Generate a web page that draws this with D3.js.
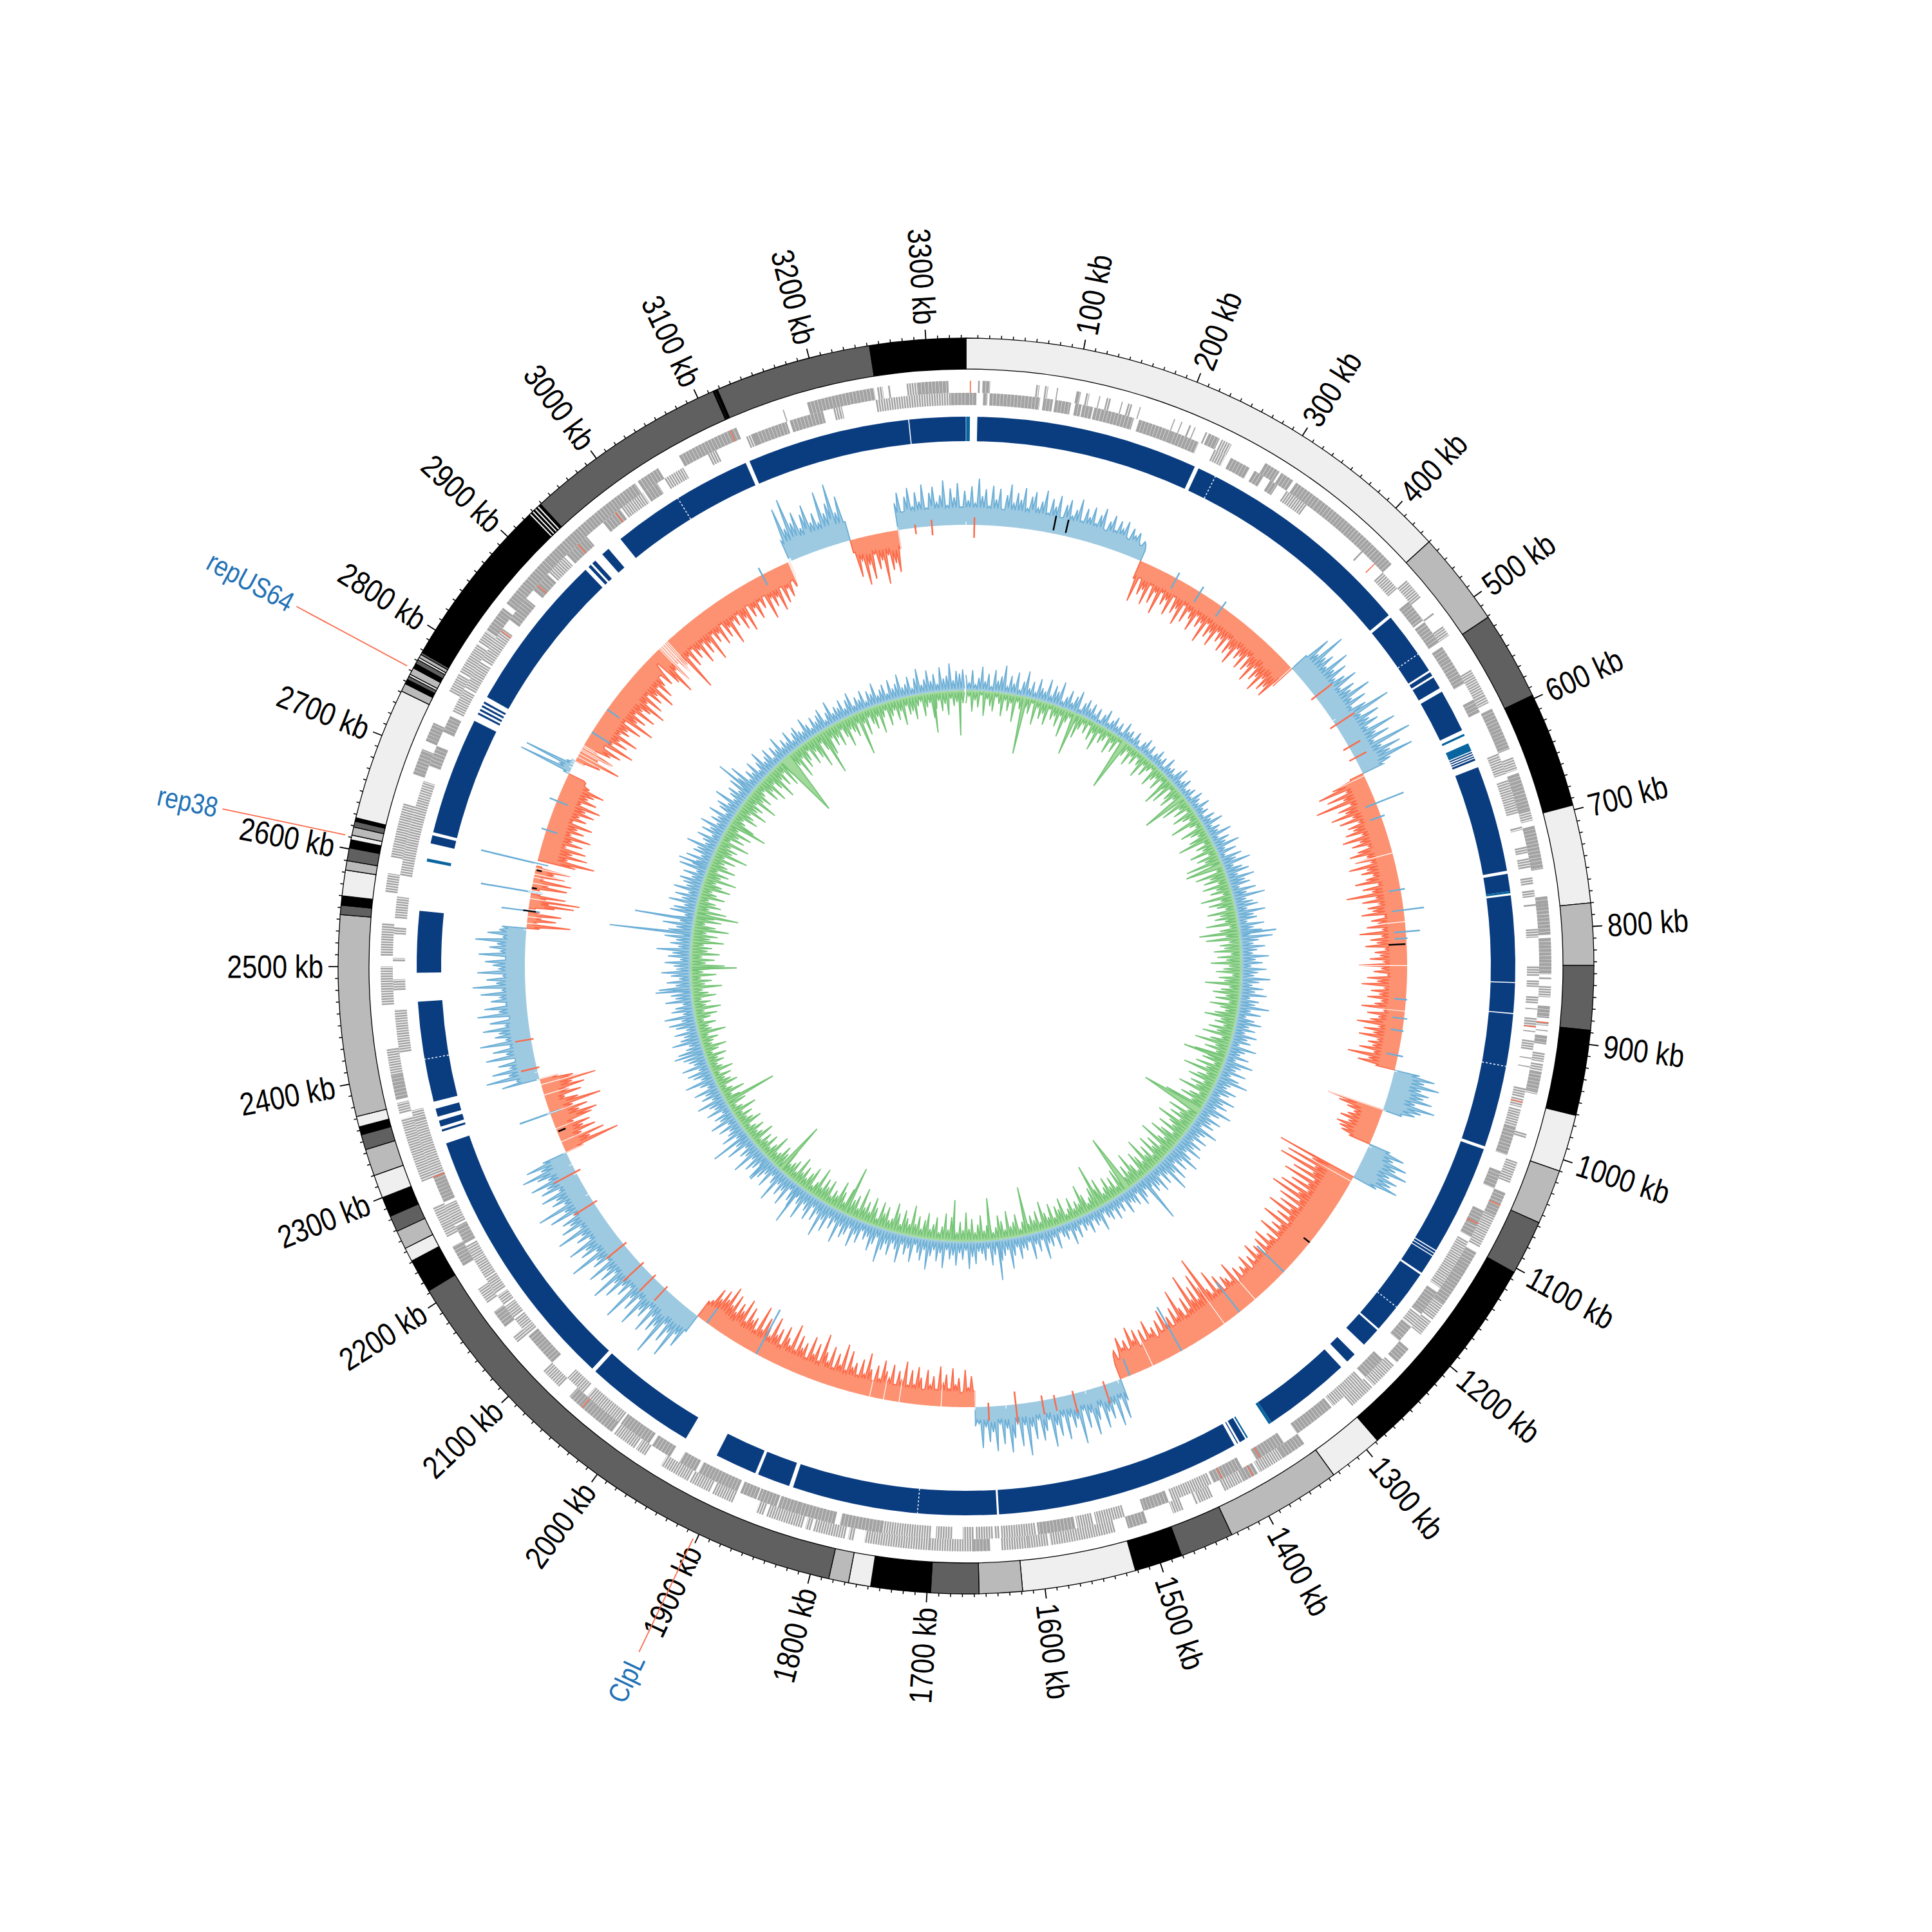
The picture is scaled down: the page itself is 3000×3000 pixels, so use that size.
<!DOCTYPE html>
<html><head><meta charset="utf-8">
<script src="https://cdn.jsdelivr.net/npm/d3@7"></script>
<style>html,body{margin:0;background:#fff}svg{display:block}text{font-family:"Liberation Sans",sans-serif}</style>
</head><body><div id="c"></div>
<script>
const genomeKb=3334;
const tickLabels=d3.range(100,3301,100);
const bandEnds=[440,521,597,696,780,833,888,961,1010,1057,1104,1288,1335,1435,1481,1522,1619,1656,1697,1748,1767,1784,2212,2241,2253,2269,2283,2300,2320,2343,2356,2363,2372,2544,2552,2560,2582,2590,2601,2608,2612,2619,2624,2627,2741,2748,2752,2755,2757,2763,2767,2771,2773,2776,2778,2926,2928,2929,2931,2932,2934,2935,2937,2939,3114,3115,3116,3117,3118,3252,3334];
const bandShades=["#efefef","#bababa","#606060","#000000"];
const bandColorIdx=[0,1,2,3,0,1,2,3,0,1,2,3,0,1,2,3,0,1,2,3,0,1,2,3,0,1,2,3,0,1,2,3,0,1,2,3,0,1,2,3,0,1,2,3,0,1,3,2,0,1,3,2,0,1,2,3,0,3,0,3,0,3,0,3,2,3,2,3,3,2,3];
const outerDense=[[15,22],[101,105],[227,238],[285,300],[302,315],[318,345],[345,432],[592,632],[655,690],[705,745],[770,805],[808,841],[870,881],[897,905],[930,948],[1045,1068],[1105,1160],[1212,1228],[1340,1362],[1390,1405],[1500,1518],[1645,1660],[2012,2062],[2148,2165],[2215,2235],[2378,2400],[2678,2702],[2710,2728],[2825,2850],[2855,2910],[2910,3015],[3018,3040],[3062,3120],[3188,3250],[3290,3318]];
const outerSparse=[[11,13],[64,67],[72,75],[83,84],[110,113],[122,123],[129,133],[143,144],[149,153],[160,161],[193,194],[200,201],[208,210],[213,214],[224,226],[240,250],[452,472],[490,492],[505,515],[552,578],[578,586],[640,652],[690,700],[775,782],[844,846],[852,862],[885,888],[892,893],[913,921],[923,929],[948,951],[988,992],[1015,1035],[1068,1100],[1160,1178],[1180,1195],[1232,1258],[1260,1285],[1362,1388],[1406,1420],[1420,1424],[1436,1450],[1451,1453],[1465,1475],[1530,1590],[1592,1610],[1610,1635],[1660,1700],[1700,1760],[1770,1775],[1778,1808],[1810,1815],[1818,1852],[1855,1862],[1885,1905],[1908,1928],[1930,1958],[1975,1985],[1987,2010],[2075,2095],[2130,2137],[2175,2190],[2245,2275],[2300,2360],[2365,2375],[2400,2425],[2465,2500],[2510,2540],[2568,2585],[2600,2650],[2760,2778],[2780,2810],[2812,2824],[3165,3166],[3253,3258],[3263,3265],[3280,3290]];
const innerDense=[[0,10],[16,20],[22,69],[72,81],[83,98],[102,108],[109,119],[120,127],[127,158],[163,195],[195,222],[255,275],[280,290],[297,305],[468,490],[492,515],[520,560],[577,590],[985,1012],[1028,1045],[1068,1095],[1155,1180],[1195,1212],[1235,1258],[1300,1340],[1355,1385],[1400,1430],[1475,1500],[1565,1600],[1745,1785],[1790,1825],[1825,1845],[1846,1865],[1866,1882],[1885,1925],[1928,1945],[1955,1975],[1978,2010],[2095,2128],[2232,2250],[2275,2300],[2690,2710],[2724,2740],[2845,2870],[2880,2900],[2925,2950],[2970,2990],[3018,3032],[3130,3165],[3168,3200],[3320,3334]];
const innerSparse=[[238,250],[315,338],[404,406],[432,452],[632,652],[658,690],[703,706],[722,728],[733,742],[751,758],[763,769],[776,778],[799,807],[834,843],[847,853],[862,869],[873,874],[882,891],[894,895],[903,912],[919,920],[927,928],[948,957],[958,966],[968,985],[1100,1150],[1182,1194],[1262,1298],[1432,1472],[1518,1545],[1548,1563],[1602,1634],[1636,1640],[1642,1658],[1660,1670],[1680,1695],[1700,1745],[2012,2050],[2055,2075],[2130,2136],[2137,2148],[2150,2163],[2165,2175],[2178,2194],[2195,2215],[2216,2230],[2252,2272],[2300,2355],[2355,2365],[2420,2460],[2478,2488],[2505,2508],[2530,2537],[2545,2565],[2585,2675],[2745,2768],[2770,2798],[2800,2835],[2902,2922],[2992,3016],[3040,3060],[3086,3095],[3125,3135],[3210,3218],[3250,3320]];
const redGenes=[[4,1],[421,0],[885,1],[890,0],[961,0],[1057,1],[1081,0],[1381,0],[1395,1],[1421,0],[2047,1],[2300,0],[2832,0],[2886,0],[2939,0],[2985,0],[3114,1]];
const contigs=[[11,228],[232,466],[469,532],[534,538],[540,552],[556,598],[621,622.2],[623.4,624.6],[625.8,627],[628,630],[637,741],[744,761],[765,849],[850,879],[880,1011],[1014,1122],[1123,1125],[1126,1128],[1129,1148],[1150,1216],[1218,1237],[1250,1260],[1268,1354],[1384,1390],[1392,1393],[1396,1635],[1637,1837],[1841,1873],[1876,1917],[1951,2060],[2064,2326],[2338,2340],[2343,2349],[2353,2361],[2368,2466],[2494,2554],[2620,2628],[2631,2746],[2753,2755],[2757,2759],[2761,2763],[2765,2767],[2772,2928],[2932,2935],[2937,2941],[2950,2958],[2973,3115],[3119,3278],[3279,3333.8]];
const plasmidContigs=[[0.2,3.8],[602,604],[612,620],[761,763],[1354,1357],[1381,1382.5],[2602,2605]];
const dottedBreaks=[250,513,931,1189,1714,2410,3041];
const blueA=[42,58,27,50,63,33,55,40,66,29,52,61,36,47,70,31,57,43,65,28,53,38,60,34,72,45,56,30,62,41,58,26,49,66,37,54,44,63,32,51,59,35,46,64,30,53,42,60,27,48,57,33,44,62,29,50,38,55,31,46,58,25,41,52,30,47,36,50,24,43,33,40,22,30,18];
const redB=[30,65,25,50,40,62,28,55,35,68,30,48,38,60,27,52,42,66,30,56,36,45,62,33,50,40,70,35,55,44,64,36,50,42,60,34,57,46,68,38,52,44,62,36,58,48,70,42,60,50,72,45,62,52,66,40];
const blueC=[30,70,45,88,50,60,42,78,48,66,40,55,72,38,60,50,80,44,65,36,58,95,42,70,50,62,40,85,48,68,38,98,46,75,55,90,50,35];
const redD=[22,55,80,35,70,45,92,38,60,50,75,42,65,35,55,48,62,36,70,44,58,33,52,66,40,60,35,72,45,55,38,50,68,32,58,44,85,40,62,36,55,48,66,30,52,42,60,35,72,38,56,46,64,33,50,42,58,36,75,40,52,30,62,46,70,34,55,42,60,38,48,68,32,58,40,52,72,36,60,44,66,35,50,42,62,38,78,44,60,30];
const blueE=[40,65,50,75,48,62,55,70,45,78,58,50,30];
const redF=[90,70,55,42,50,60,45,62,55,50,35];
const blueG=[35,60,45,70,55,76,50,66,58,72,40];
const redH=[128,70,110,60,118,58,90,50,100,55,82,48,95,60,105,52,85,46,78,55,92,50,70,44,88,52,66,48,80,42,60,50,75,46,68,40,62,48,72,44,58,38,66,46,54,40,60,36,75,45,55,62,42,70,50,85,48,60,118,70,95,55,80,60,105,50,72,44,60,92,48,68,40,58,50,74,42,62,36,55,46,70,40,60,35,64,48,72,38,55,44,63,30,45,25];
const blueI=[35,62,28,70,34,55,42,66,30,50,72,36,58,28,80,40,52,34,68,30,60,42,75,32,48,62,28,58,38,82,34,66,30,52,74,36,60,28,70,40,55,32,64,26,30];
const redJ=[25,48,30,58,22,45,35,60,28,50,38,62,26,46,32,55,24,42,58,30,52,28,64,36,48,26,56,34,44,60,30,50,25,42,66,32,54,28,46,38,62,30,70,36,52,28,60,34,48,75,30,56,38,64,28,50,40,58,32,72,36,46,62,30,54,42,68,34,48,60,38,74,32,50,44,62,36,70,48,58,40,66,46,74,50,62,44,58,35,30];
const blueK=[30,62,44,88,50,70,42,100,55,68,46,78,38,60,52,84,40,66,48,92,36,58,44,72,50,86,38,62,46,75,34,58,48,90,40,64,52,78,36,56,44,82,38,68,50,60,36,74,46,88,40,58,48,70,36,64,52,76,44,60,82,48,70,40];
const redL=[30,90,45,70,35,60,42,55,30,62,72,45,60,38,85,50,30,58,40,66,48,87,52,30];
const blueM=[60,35,82,45,70,40,58,30,75,42,62,34,80,38,55,48,72,36,60,28,78,44,66,32,55,40,70,36,82,45,60,34,74,40,50,62,30,72,38,56,44,78,35,60,42,38];
const redN1=[20,68,15,45,22,52,18];
const redN2=[10,40,70,30,78,25,55,15];
const redN3=[12,55,25,60,15,48,30,55,8];
const redN4=[60,89,45,75,50,70,36,62,44,72,38,58,46,68,34,55,42,64,48,70,36,60,44,52,66,40,30,25];
const blueO=[10,85,20,80,12,5];
const redP=[15,40,70,30,55,20,45,60,28,76,36,60,44,72,38,52,46,66,34,82,50,62,40,72,46,58,80,44,68,36,60,48,75,40,64,46,30,52,15,58,80,42,66,36,60,48,96,40,62,34,55,44,70,38,60,46,78,36,54,42,64,32,58,44,75,38,50,34,62,46,70,30,52,40,60,34,48,30,70,38,55,42,66,30,58,36,52,28,40,20];
const blueQ=[35,85,50,96,55,70,42,62,75,45,58,40,88,52,66,95,48,72,30];
const redR=[20,60,35,75,45,68,30,55,42,80,36,60,50,65,30];
const ringRuns=[[3252,3550,1,blueA,27],[216,441,-1,redB,25],[441,594,1,blueC,30],[594,960,-1,redD,27],[960,1010,1,blueE,28],[1010,1054,-1,redF,30],[1054,1098,1,blueG,28],[1098,1477,-1,redH,40],[1477,1656,1,blueI,20],[1656,2014,-1,redJ,25],[2014,2269,1,blueK,28],[2269,2363,-1,redL,20],[2363,2546,1,blueM,30],[2546,2566,-1,redN1,8],[2570,2588,-1,redN2,10],[2593,2622,-1,redN3,10],[2629,2740,-1,redN4,30],[2740,2757,1,blueO,3],[2757,3116,-1,redP,30],[3116,3193,1,blueQ,30],[3193,3252,-1,redR,25]];
const blueCross=[[264,10],[297,10],[329,10],[633,46],[650,6],[741,7],[766,32],[792,22],[800,2],[874,2],[897,5],[912,2],[942,8],[1240,-40],[1312,-40],[1396,-60],[1465,-10],[1930,-60],[2000,-10],[2320,50],[2667,8],[2704,12],[2797,-15],[2830,-5],[3079,12],[2625,89],[2590,79],[2567,42]];
const redCross=[[10,-20,12],[3293,-14,10],[3273,-10,5],[485,-8,32],[527,-10,35],[558,-10,20],[573,-10,20],[1640,-6,22],[1607,-20,30],[1575,-8,22],[1560,-5,20],[1537,-5,30],[1498,-6,30],[2412,-4,25],[2377,-4,25],[2243,-8,38],[2200,-6,36],[2138,-5,35],[2106,-5,38],[2085,-5,30],[2065,-5,25]];
const blackMarks=[[105,5,28],[120,5,26],[807,-28,-2],[1193,-12,0],[2296,-14,-2],[2617,-10,-2],[2595,-8,0],[2567,-12,8]];
const innerBlue=[34,22,41,18,30,46,25,37,16,43,28,35,50,20,38,27,44,17,33,48,24,36,19,42,30,26,45,21,39,32,47,18,29,40,23,35,44,16,31,38,
26,36,20,33,14,29,38,18,27,35,22,31,16,37,25,30,19,34,24,13,28,36,21,32,17,26,35,23,30,15,37,24,28,19,33,40,22,27,34,18,
25,31,17,36,28,21,38,24,30,16,35,26,42,20,33,27,45,22,38,30,48,24,40,18,44,34,52,26,38,46,28,50,36,42,24,47,33,56,30,39,
45,28,52,36,40,24,48,33,44,26,56,38,30,46,35,28,50,32,42,25,47,36,30,52,38,28,44,33,49,26,40,35,54,30,45,24,38,48,32,42,
28,46,34,40,24,50,36,30,44,26,52,38,32,48,28,42,55,34,30,46,38,26,50,36,44,30,54,40,28,47,35,42,25,52,38,32,46,28,44,36,
50,30,42,55,34,46,28,52,38,60,32,44,26,48,36,42,30,50,28,38,46,24,40,34,30,44,22,36,28,42,26,38,32,20,46,30,35,24,41,28,
34,22,40,28,46,24,36,30,20,44,26,38,32,52,24,40,28,48,22,34,30,44,26,38,54,28,36,42,24,33,47,22,40,30,26,44,34,50,24,38,
28,46,32,38,24,50,30,42,26,36,54,28,44,34,22,48,30,40,26,52,36,28,46,32,42,58,26,38,48,30,36,24,44,34,52,28,40,46,32,56,
30,42,28,50,36,60,32,44,26,48,38,30,54,36,28,46,40,24,52,34,44,30,58,36,26,48,32,42,50,28,38,46,30,56,34,40,26,52,36,44,
28,48,36,30,44,26,50,34,40,24,46,32,38,52,28,42,34,48,26,36,54,30,40,46,28,50,32,38,44,26,48,36,30,52,40,34,46,28,42,50,
32,54,28,44,38,26,50,36,42,30,56,34,46,28,40,52,32,36,48,26,44,38,58,30,42,34,50,28,46,36,54,32,40,26,48,44,30,52,36,46,
28,50,34,40,46,30,44,26,52,36,32,48,28,42,38,54,30,36,46,26,44,34,50,28,40,32,48,24,38,44,30,52,26,36,42,28,46,32,40,54,
26,38,30,44,24,36,48,28,34,42,22,38,30,46,26,36,28,42,24,34,40,30,26,44,32,22,38,28,36,42,20,32,46,26,34,30,40,24,36,44,
22,34,28,40,20,36,30,44,24,32,38,22,42,28,34,46,26,30,40,20,36,48,24,32,44,28,38,22,46,30,34,50,26,40,36,42];
const innerGreen=[30,18,42,25,36,14,47,22,33,40,16,28,45,20,37,24,50,19,31,43,26,35,15,48,21,38,29,44,17,34,27,41,23,52,30,19,39,26,46,32,
20,34,16,40,27,50,22,36,30,18,44,25,38,15,47,28,33,20,42,24,35,18,30,46,22,38,26,16,44,32,24,40,20,34,28,48,18,36,45,26,
30,22,52,28,40,18,46,34,24,55,30,20,48,36,26,42,58,22,38,30,50,24,44,34,60,28,40,20,54,36,46,26,50,32,42,24,56,30,48,38,
26,52,36,44,30,56,24,40,48,32,58,28,42,36,50,26,46,34,54,30,38,48,24,44,36,60,28,40,50,32,46,26,52,38,30,44,56,34,42,28,
48,36,54,26,42,60,32,46,28,56,38,44,24,50,34,62,30,42,52,28,46,36,58,26,40,50,32,66,38,44,28,54,36,48,30,60,42,34,52,26,
44,56,32,40,62,28,48,36,54,26,46,34,60,30,42,50,24,38,56,32,44,28,52,36,48,24,42,30,46,34,26,50,38,28,44,32,24,40,54,30,
36,26,44,30,22,48,34,40,24,46,28,36,52,24,42,30,38,26,56,32,20,44,34,28,50,24,38,46,30,22,42,34,26,48,36,24,44,30,52,28,
40,24,36,46,28,50,32,22,44,34,26,48,38,24,42,30,54,28,36,46,24,40,52,30,26,44,34,48,22,38,50,28,42,32,56,26,44,36,30,48,
26,40,52,30,36,24,46,34,44,28,54,32,22,48,38,26,42,30,50,24,40,34,28,46,22,36,44,30,26,50,34,24,42,28,38,20,46,32,26,40,
30,22,44,34,26,38,24,48,30,20,40,28,36,24,46,30,22,42,34,26,38,20,44,30,24,36,28,42,22,34,46,26,30,38,24,50,32,28,40,22,
34,44,26,50,30,38,24,46,36,28,54,32,42,26,48,30,40,58,34,46,28,52,36,42,30,56,38,48,32,60,44,28,50,40,34,54,30,46,38,26,
48,36,28,52,40,30,56,34,44,26,50,38,32,46,28,58,36,42,30,54,24,44,34,50,28,40,48,32,26,46,38,30,52,36,42,28,56,34,44,30,
24,46,34,52,28,40,56,32,44,26,50,36,60,30,42,34,54,28,46,38,24,48,32,44,58,26,40,36,50,28,42,32,46,24,38,52,30,36,44,26,
40,30,48,24,36,44,28,52,32,22,46,34,26,42,30,50,24,38,34,46,28,20,44,32,26,48,36,24,40,30,46,22,34,28,42,30];
const greenBig=[[115,90,4],[218,68,4],[327,85,6],[440,50,3],[482,73,5],[634,60,5],[768,63,3],[1016,68,3],[1128,100,7],[1333,93,6],[1396,70,3],[1546,75,3],[1620,66,3],[1692,64,2],[1909,77,3],[2060,85,4],[2226,83,3],[2496,72,2],[2600,68,3],[2790,62,3],[2954,104,11],[3040,72,3],[3118,68,3],[3271,63,2],[3322,70,2]];
const blueBig=[[771,57,2],[1300,77,3],[1605,63,2],[2007,65,2],[2090,42,2],[2153,64,2],[2333,48,2],[2454,56,2],[2562,129,2],[2589,93,2],[2695,49,2],[2862,64,2]];
const geneLinks=[["repUS64",2762],["rep38",2611],["ClpL",1903]];

const W=3000,C=1500,R={bandOut:975,bandIn:927,gO:899.5,gI:880.5,gW:19,ctgOut:853,ctgIn:815,ring:685,inner:428,tickMin:980,tickMaj:990,label:998,linkIn:985,linkOut:1180,linkLabel:1188};
const theta=d3.scaleLinear().domain([0,genomeKb]).range([0,2*Math.PI]);
const svg=d3.select("#c").append("svg").attr("width",W).attr("height",W).attr("viewBox",`0 0 ${W} ${W}`).style("background","#fff");
const g=svg.append("g").attr("transform",`translate(${C},${C})`);
const pt=(kb,r)=>{const a=theta(kb)-Math.PI/2;return [r*Math.cos(a),r*Math.sin(a)]};

const rI=d3.scaleLinear().domain([-100,100]).range([R.inner-100,R.inner+100]);
const peakScale=d3.scalePow().exponent(1.5).domain([0,60]).range([0,56]);
const aR=d3.areaRadial().angle(d=>theta(d[0])).innerRadius(d=>d[2]).outerRadius(d=>d[1]);
const lR=d3.lineRadial().angle(d=>theta(d[0])).radius(d=>d[1]);
function drawSpikes(pts,fill,stroke,sw){
  g.append("path").attr("d",aR(pts)).attr("fill",fill);
  g.append("path").attr("d",lR(pts)).attr("fill","none").attr("stroke",stroke).attr("stroke-width",sw).attr("stroke-linejoin","miter").attr("stroke-miterlimit",4);
}
function peaks(vals,sign){
  const step=genomeKb/vals.length,pts=[];
  vals.forEach((v,i)=>{
    const kb=i*step;
    pts.push([kb,rI(sign*peakScale(v)),R.inner]);
    pts.push([kb+step/2,R.inner+sign*3,R.inner]);
  });
  return pts;
}
function bigs(list,sign,fill,stroke){
  list.forEach(([kb,v,w])=>{
    drawSpikes([[kb-w,rI(sign*3),R.inner],[kb,rI(sign*v),R.inner],[kb+w,rI(sign*3),R.inner]],fill,stroke,1.8);
  });
}
drawSpikes(peaks(innerBlue,1),"#9ecae1","#6baed6",1.7);
bigs(blueBig,1,"#9ecae1","#6baed6");
drawSpikes(peaks(innerGreen,-1),"#a1d99b","#74c476",1.7);
bigs(greenBig,-1,"#a1d99b","#74c476");

const rR=d3.scaleLinear().domain([-100,100]).range([R.ring-100,R.ring+100]);
ringRuns.forEach(([s,e,sign,vals,body])=>{
  const kbOf=d3.scaleLinear().domain([0,vals.length-1]).range([s,e]);
  const half=(e-s)/(vals.length-1)/2;
  const pts=[[s,R.ring,R.ring]];
  vals.forEach((v,i)=>{
    pts.push([kbOf(i),rR(sign*v),R.ring]);
    if(i<vals.length-1){
      const trough=Math.max(Math.min(body,v),Math.min(v,vals[i+1])*0.6);
      pts.push([kbOf(i)+half,rR(sign*trough),R.ring]);
    }
  });
  pts.push([e,R.ring,R.ring]);
  if(sign>0) drawSpikes(pts,"#9ecae1","#6baed6",1.8);
  else drawSpikes(pts,"#fc9272","#fb6a4a",1.8);
});
blueCross.forEach(([kb,v])=>{
  const a=pt(kb,rR(Math.min(v,0)-18)),b=pt(kb,rR(Math.max(v,0)));
  g.append("line").attr("x1",a[0]).attr("y1",a[1]).attr("x2",b[0]).attr("y2",b[1]).attr("stroke","#6baed6").attr("stroke-width",2.5);
});
redCross.forEach(([kb,lo,hi])=>{
  const a=pt(kb,rR(lo)),b=pt(kb,rR(hi));
  g.append("line").attr("x1",a[0]).attr("y1",a[1]).attr("x2",b[0]).attr("y2",b[1]).attr("stroke","#fb6a4a").attr("stroke-width",2.5);
});
bandEnds.forEach(kb=>{
  const a=pt(kb,rR(-95)),b=pt(kb,rR(5));
  g.append("line").attr("x1",a[0]).attr("y1",a[1]).attr("x2",b[0]).attr("y2",b[1]).attr("stroke","#fff").attr("stroke-width",1.2);
});
blackMarks.forEach(([kb,lo,hi])=>{
  const a=pt(kb,rR(lo)),b=pt(kb,rR(hi));
  g.append("line").attr("x1",a[0]).attr("y1",a[1]).attr("x2",b[0]).attr("y2",b[1]).attr("stroke","#000").attr("stroke-width",2.5);
});

const arcC=d3.arc().innerRadius(R.ctgIn).outerRadius(R.ctgOut);
const arcOf=(s,e)=>arcC({startAngle:theta(s),endAngle:theta(e)});
g.selectAll(".ctg").data(contigs).join("path").attr("d",d=>arcOf(d[0],d[1])).attr("fill","#0a3d80");
g.selectAll(".plm").data(plasmidContigs).join("path").attr("d",d=>arcOf(d[0],d[1])).attr("fill","#08659f");
dottedBreaks.forEach(kb=>{
  const a=pt(kb,R.ctgIn),b=pt(kb,R.ctgOut);
  g.append("line").attr("x1",a[0]).attr("y1",a[1]).attr("x2",b[0]).attr("y2",b[1]).attr("stroke","#fff").attr("stroke-width",1.5).attr("stroke-dasharray","3 3");
});

function geneArc(s,e,r){const p=d3.path();p.arc(0,0,r,theta(s)-Math.PI/2,theta(e)-Math.PI/2);return p.toString();}
function genes(list,r,dash){
  g.append("g").selectAll("path").data(list).join("path").attr("d",d=>geneArc(d[0],d[1],r)).attr("fill","none").attr("stroke","#a3a3a3").attr("stroke-width",R.gW).attr("stroke-dasharray",dash);
}
genes(outerDense,R.gO,"5 0.5");genes(innerDense,R.gI,"5 0.5");
genes(outerSparse,R.gO,"2.6 1.3");genes(innerSparse,R.gI,"2.6 1.3");
redGenes.forEach(([kb,outer])=>{
  const r=outer?R.gO:R.gI,a=pt(kb,r-R.gW/2),b=pt(kb,r+R.gW/2);
  g.append("line").attr("x1",a[0]).attr("y1",a[1]).attr("x2",b[0]).attr("y2",b[1]).attr("stroke","#fb6a4a").attr("stroke-width",1.6);
});

const arcB=d3.arc().innerRadius(R.bandIn).outerRadius(R.bandOut);
const bandStarts=[0,...bandEnds.slice(0,-1)];
g.selectAll(".band").data(bandEnds).join("path").attr("d",(d,i)=>arcB({startAngle:theta(bandStarts[i]),endAngle:theta(d)})).attr("fill",(d,i)=>bandShades[bandColorIdx[i]]).attr("stroke","#000").attr("stroke-width",1.3);

d3.range(10,genomeKb,10).forEach(kb=>{
  const maj=kb%100===0,a=pt(kb,R.bandOut),b=pt(kb,maj?R.tickMaj:R.tickMin);
  g.append("line").attr("x1",a[0]).attr("y1",a[1]).attr("x2",b[0]).attr("y2",b[1]).attr("stroke","#000").attr("stroke-width",maj?1.8:1.5);
});
function radialText(kb,r,txt,size,fill){
  const deg=theta(kb)*180/Math.PI,p=pt(kb,r),right=deg<180;
  g.append("text").attr("transform",`translate(${p[0]},${p[1]}) rotate(${right?deg-90:deg+90}) scale(0.84,1)`).attr("text-anchor",right?"start":"end").attr("dominant-baseline","central").attr("font-size",size).attr("fill",fill).text(txt);
}
tickLabels.forEach(kb=>radialText(kb,R.label,kb+" kb",50,"#000"));

geneLinks.forEach(([name,kb])=>{
  const a=pt(kb,R.linkIn),b=pt(kb,R.linkOut);
  g.append("line").attr("x1",a[0]).attr("y1",a[1]).attr("x2",b[0]).attr("y2",b[1]).attr("stroke","#fb6a4a").attr("stroke-width",1.8);
  radialText(kb,R.linkLabel,name,44,"#2171b5");
});
</script></body></html>
